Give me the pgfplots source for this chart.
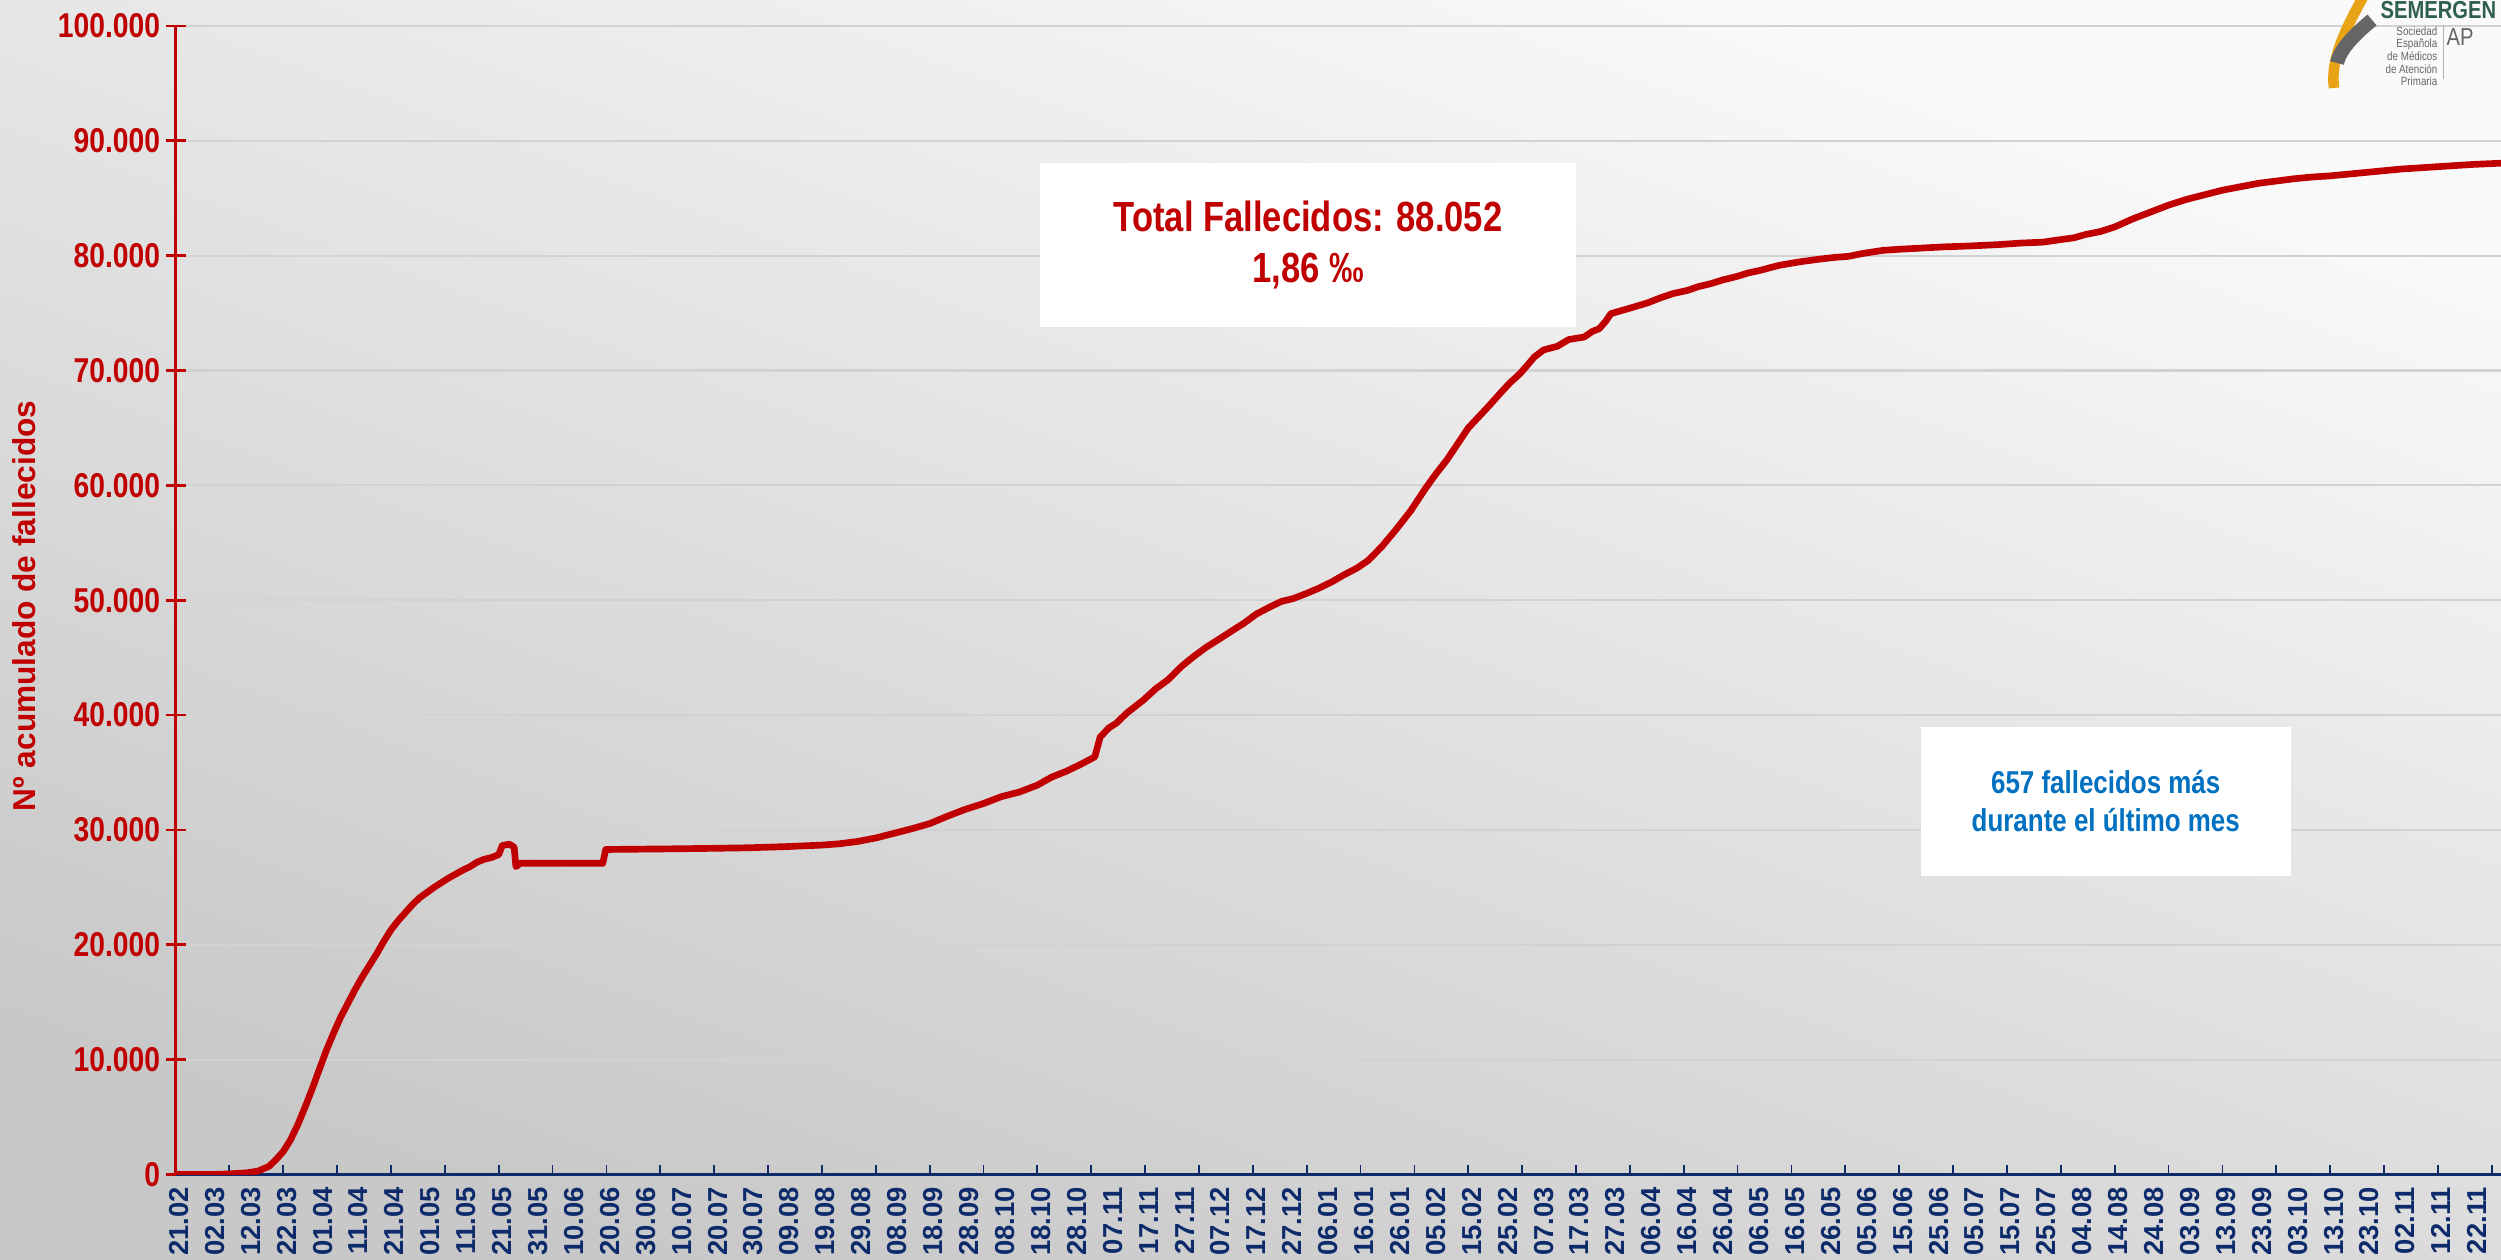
\documentclass[border=0pt]{standalone}
\usepackage{fontspec}
\setmainfont{Liberation Sans}
\newfontfamily\narrowfont{Liberation Sans}[FakeStretch=0.82]
\usepackage{pgfplots}
\pgfplotsset{compat=1.18}

\definecolor{rojo}{HTML}{C00000}
\definecolor{marino}{HTML}{0D2A6B}
\definecolor{azul}{HTML}{0070C0}
\definecolor{rejilla}{HTML}{D2D2D2}
\definecolor{logoverde}{HTML}{2F5F4F}
\definecolor{logonaranja}{HTML}{E8A317}

% day 0 = 21.02.2020, cumulative deaths
\pgfplotstableread{
d v
0 0
10 0
15 50
20 150
23 300
26 700
28 1300
30 2000
32 3000
34 4300
36 5800
38 7400
40 9100
42 10800
44 12300
46 13700
48 14900
50 16100
52 17200
54 18200
56 19200
58 20300
60 21300
62 22100
64 22800
66 23500
68 24100
70 24550
72 25000
74 25400
76 25800
78 26150
80 26500
82 26800
84 27200
86 27450
88 27600
90 27850
91 28650
93 28760
94.3 28500
94.8 26800
96 27100
119 27100
119.8 28300
130 28330
140 28360
150 28400
160 28450
170 28550
180 28680
185 28800
190 29000
195 29300
200 29700
205 30100
210 30550
215 31200
220 31800
225 32300
230 32900
235 33300
240 33900
244 34600
248 35100
252 35700
256 36360
257.5 38100
260 38900
262 39300
265 40200
269.5 41300
273 42300
276.5 43100
280 44200
283.4 45070
287 45900
290.9 46670
294 47300
297.4 47970
301 48800
304.8 49420
308 49900
311.3 50150
315 50600
318.2 51020
322 51600
325.2 52180
329 52800
332.2 53480
336 54700
340 56200
344 57800
348 59700
351 61000
354 62200
357 63600
360 65000
363 66000
366 67000
368.8 67990
371.5 68900
374.4 69730
376 70300
378.4 71180
381 71800
384.8 72110
388 72700
392.3 72920
394.5 73400
396.5 73650
398.3 74300
399.7 74950
403 75250
406.1 75530
410 75900
413.6 76340
417 76700
421.1 76980
424 77300
427.5 77560
431 77900
434.9 78200
438 78500
441.3 78720
444 78950
446.6 79160
452 79450
457.3 79680
462 79850
465.8 79940
470 80200
475.4 80460
480 80560
486.1 80660
492 80760
500 80850
507.4 80960
514 81100
520.1 81180
525 81400
528.7 81560
532 81850
536 82100
540 82500
545 83200
550 83800
555 84400
560 84900
565 85300
570 85700
575 86000
580 86300
585 86500
590 86700
595 86850
600 86950
605 87100
610 87250
615 87400
620 87550
625 87650
630 87750
635 87850
640 87950
647.6 88052
}\fallecidos

\begin{document}
\begin{tikzpicture}
\useasboundingbox (0,0) rectangle (25.01,12.59);
\shade[top color={rgb,255:red,250;green,250;blue,250}, bottom color={rgb,255:red,200;green,200;blue,200}, shading angle=-20]
  (0,0) rectangle (25.01,12.59);

\begin{axis}[
  at={(1.755cm,0.845cm)}, anchor=south west,
  scale only axis, width=23.255cm, height=11.485cm,
  xmin=0, xmax=647.6, ymin=0, ymax=100000,
  axis x line*=bottom, axis y line*=left,
  x axis line style={marino, line width=0.6pt},
  y axis line style={rojo, line width=0.8pt},
  xtick={0,10,...,640},
  xticklabels={21.02,02.03,12.03,22.03,01.04,11.04,21.04,01.05,11.05,21.05,31.05,10.06,20.06,30.06,10.07,20.07,30.07,09.08,19.08,29.08,08.09,18.09,28.09,08.10,18.10,28.10,07.11,17.11,27.11,07.12,17.12,27.12,06.01,16.01,26.01,05.02,15.02,25.02,07.03,17.03,27.03,06.04,16.04,26.04,06.05,16.05,26.05,05.06,15.06,25.06,05.07,15.07,25.07,04.08,14.08,24.08,03.09,13.09,23.09,03.10,13.10,23.10,02.11,12.11,22.11},
  minor xtick={0,15,...,645},
  every major x tick/.style={draw=none},
  every minor x tick/.style={marino, line width=0.5pt},
  xtick align=inside,
  minor tick length=0.9mm,
  major tick length=2mm,
  ytick align=center,
  ytick={0,10000,...,100000},
  every major y tick/.style={rojo, line width=0.8pt},
  scaled y ticks=false,
  yticklabel style={/pgf/number format/fixed, /pgf/number format/1000 sep={.},
    /pgf/number format/assume math mode=true,
    text=rojo, xshift=0.7mm, font=\narrowfont\fontsize{9.8}{10}\selectfont\bfseries},
  ymajorgrids,
  major grid style={rejilla, line width=0.6pt},
  xticklabel style={rotate=90, anchor=east, yshift=-0.35mm, text=marino,
    font=\fontsize{7.8}{8}\selectfont\bfseries},
]
\addplot[rojo, line width=1.9pt, line join=round, line cap=round, no markers] table[x=d, y=v] {\fallecidos};
\end{axis}

% y label
\node[rotate=90, text=rojo, font=\fontsize{9}{10}\selectfont\bfseries] at (0.24,6.53) {Nº acumulado de fallecidos};

% text boxes
\node[fill=white, minimum width=5.36cm, minimum height=1.64cm, align=center, text=rojo,
  font=\narrowfont\bfseries\fontsize{12}{14.5}\selectfont] at (13.08,10.14) {Total Fallecidos: 88.052\\1,86 ‰};
\node[fill=white, minimum width=3.70cm, minimum height=1.487cm, align=center, text=azul,
  font=\narrowfont\bfseries\fontsize{9}{10.8}\selectfont] at (21.057,4.576) {657 fallecidos más\\durante el último mes};

% logo
\draw[logonaranja, line width=3pt] (23.63,12.62) .. controls (23.45,12.29) and (23.30,11.99) .. (23.34,11.71);
\draw[gray!80!black, line width=4pt] (23.72,12.39) .. controls (23.55,12.25) and (23.40,12.10) .. (23.37,11.96);
\node[anchor=base west, inner sep=0, text=logoverde, font=\narrowfont\bfseries\fontsize{7}{8}\selectfont] at (23.80,12.40) {SEMERGEN};
\node[anchor=north east, inner sep=0, align=right, text=gray!80!black, font=\narrowfont\fontsize{3.4}{3.6}\selectfont] at (24.38,12.33) {Sociedad\\Española\\de Médicos\\de Atención\\Primaria};
\draw[gray!60, line width=0.3pt] (24.43,12.34) -- (24.43,11.80);
\node[anchor=west, inner sep=0, text=gray!80!black, font=\narrowfont\fontsize{7}{8}\selectfont] at (24.46,12.22) {AP};
\end{tikzpicture}
\end{document}
